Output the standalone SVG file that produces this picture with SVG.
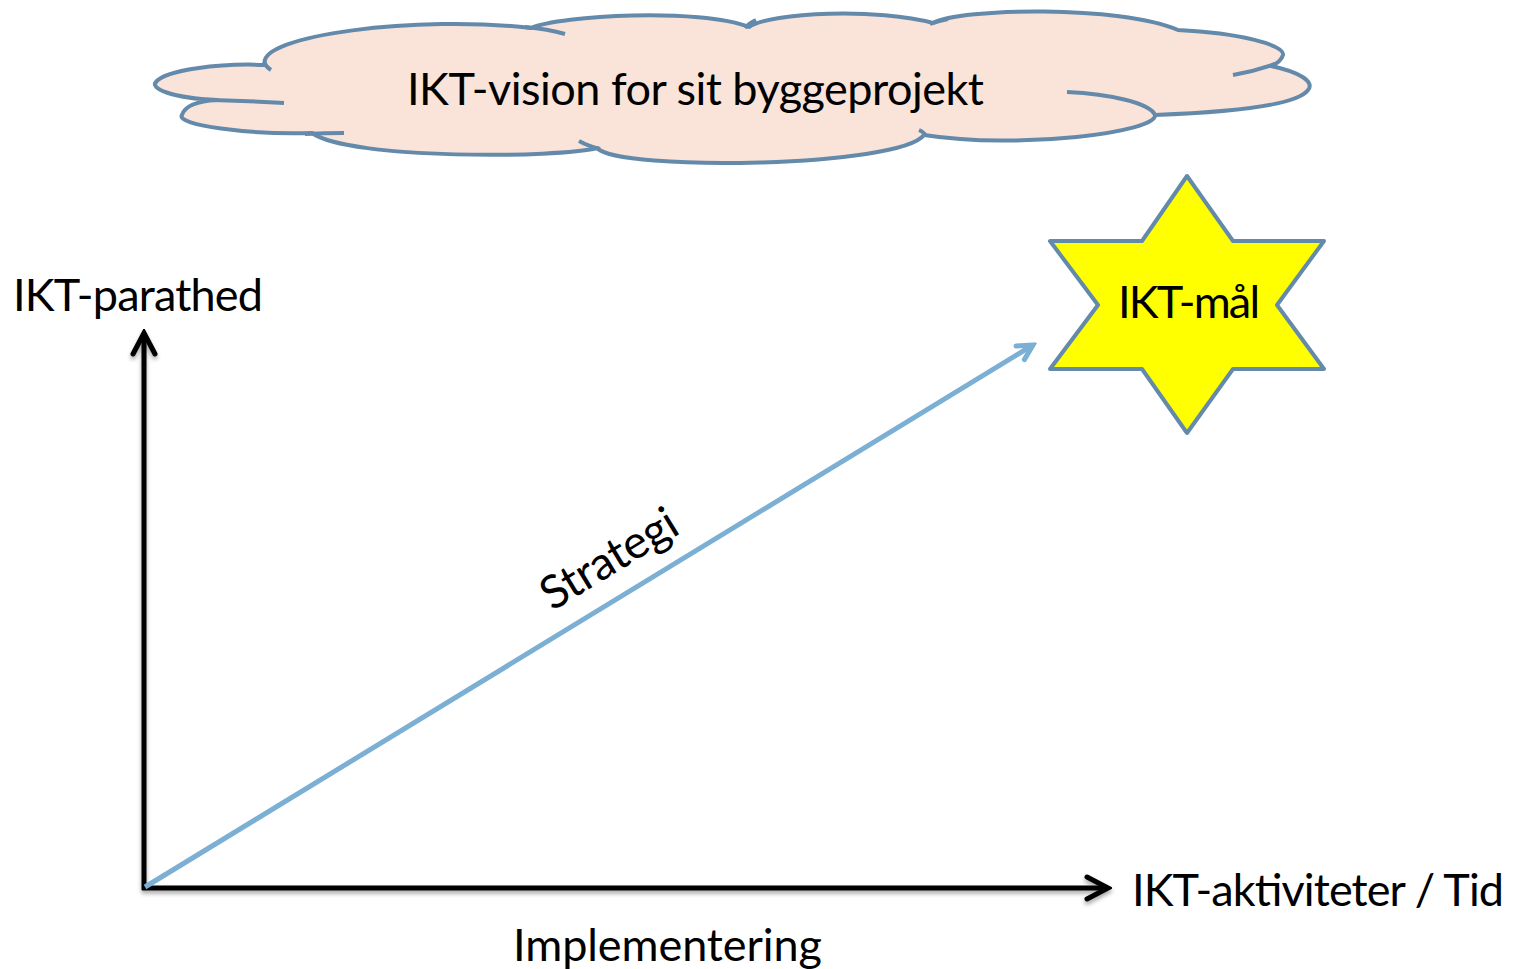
<svg xmlns="http://www.w3.org/2000/svg" width="1514" height="969" viewBox="0 0 1514 969">
  <style>
    .txt { font-family: Lato, "Open Sans", "Liberation Sans", sans-serif; font-size: 45px; fill: #000; }
    .shape-stroke { stroke: #648AAB; stroke-width: 4; stroke-linejoin: round; stroke-linecap: butt; }
    .hook { fill: none; stroke: #648AAB; stroke-width: 4; stroke-linecap: butt; }
    .axis { fill: none; stroke: #000; stroke-width: 5; }
    .strat { fill: none; stroke: #7BAFD4; stroke-width: 5; }
  </style>
  <defs>
    <marker id="arrowBlack" markerUnits="userSpaceOnUse" viewBox="-30 -16 34 32" markerWidth="34" markerHeight="32" refX="0" refY="0" orient="auto">
      <path d="M-21,-11 L0,0 L-21,11" fill="none" stroke="#000" stroke-width="5" stroke-linecap="round" stroke-linejoin="miter"/>
    </marker>
    <marker id="arrowBlue" markerUnits="userSpaceOnUse" viewBox="-24 -14 28 28" markerWidth="28" markerHeight="28" refX="0" refY="0" orient="auto">
      <path d="M-15,-8 L0,0 L-15,8" fill="none" stroke="#7BAFD4" stroke-width="5" stroke-linecap="round" stroke-linejoin="miter"/>
    </marker>
    <filter id="shadow" x="-5%" y="-5%" width="110%" height="120%">
      <feDropShadow dx="0" dy="3" stdDeviation="2" flood-color="#000" flood-opacity="0.35"/>
    </filter>
  </defs>

  <g id="cloud">
    <path class="shape-stroke" fill="#FAE3D9" d="M265,65 C255,35 420,15 531,28 C560,15 700,8 749,27 C770,12 880,8 933,23 C960,8 1120,5 1178,30 C1240,33 1285,45 1283,55 Q1281,62 1271,66 C1300,72 1315,82 1308,90 C1295,108 1210,113 1155,115 C1158,132 1020,150 924,135 C900,167 620,172 597,148 C560,158 350,160 312,133 C250,135 175,125 182,115 C185,105 200,101 217,100 C170,98 150,88 156,82 C165,70 220,63 265,65 Z"/>
    <path class="hook" d="M264,62 Q266,67 271,70"/>
    <path class="hook" d="M212,100 Q250,101 284,103"/>
    <path class="hook" d="M305,134 Q325,133 344,133"/>
    <path class="hook" d="M579,141 Q588,146 600,149"/>
    <path class="hook" d="M525,27 Q548,29 565,34"/>
    <path class="hook" d="M745,28 Q749,23 756,20"/>
    <path class="hook" d="M930,24 Q938,21 948,19"/>
    <path class="hook" d="M1275,64 Q1255,71 1233,75"/>
    <path class="hook" d="M1067,92 C1110,94 1150,103 1155,115"/>
    <path class="hook" d="M926,136 Q924,132 919,130"/>
    <text class="txt" x="407" y="105" textLength="577">IKT-vision for sit byggeprojekt</text>
  </g>

  <g id="star">
    <polygon class="shape-stroke" fill="#FFFF00" points="1187,176 1233,241 1324,241 1277,305 1324,369 1233,369 1187,433 1142,369 1050,369 1098,305 1050,241 1142,241"/>
    <text class="txt" x="1118" y="318" textLength="142">IKT-mål</text>
  </g>

  <g id="connectors">
    <g filter="url(#shadow)">
      <line id="y-axis" class="axis" x1="144" y1="890" x2="144" y2="333" marker-end="url(#arrowBlack)"/>
      <line id="x-axis" class="axis" x1="142" y1="888" x2="1108" y2="888" marker-end="url(#arrowBlack)"/>
    </g>
    <line id="strategi-line" class="strat" x1="145" y1="887" x2="1033" y2="345" marker-end="url(#arrowBlue)"/>
  </g>

  <g id="labels">
    <text class="txt" x="13" y="311" textLength="250">IKT-parathed</text>
    <text class="txt" x="1132" y="906" textLength="372">IKT-aktiviteter / Tid</text>
    <text class="txt" x="513" y="961" textLength="309">Implementering</text>
    <text class="txt" text-anchor="middle" textLength="152" style="font-size:46px" transform="translate(617,572) rotate(-31.4)">Strategi</text>
  </g>
</svg>
